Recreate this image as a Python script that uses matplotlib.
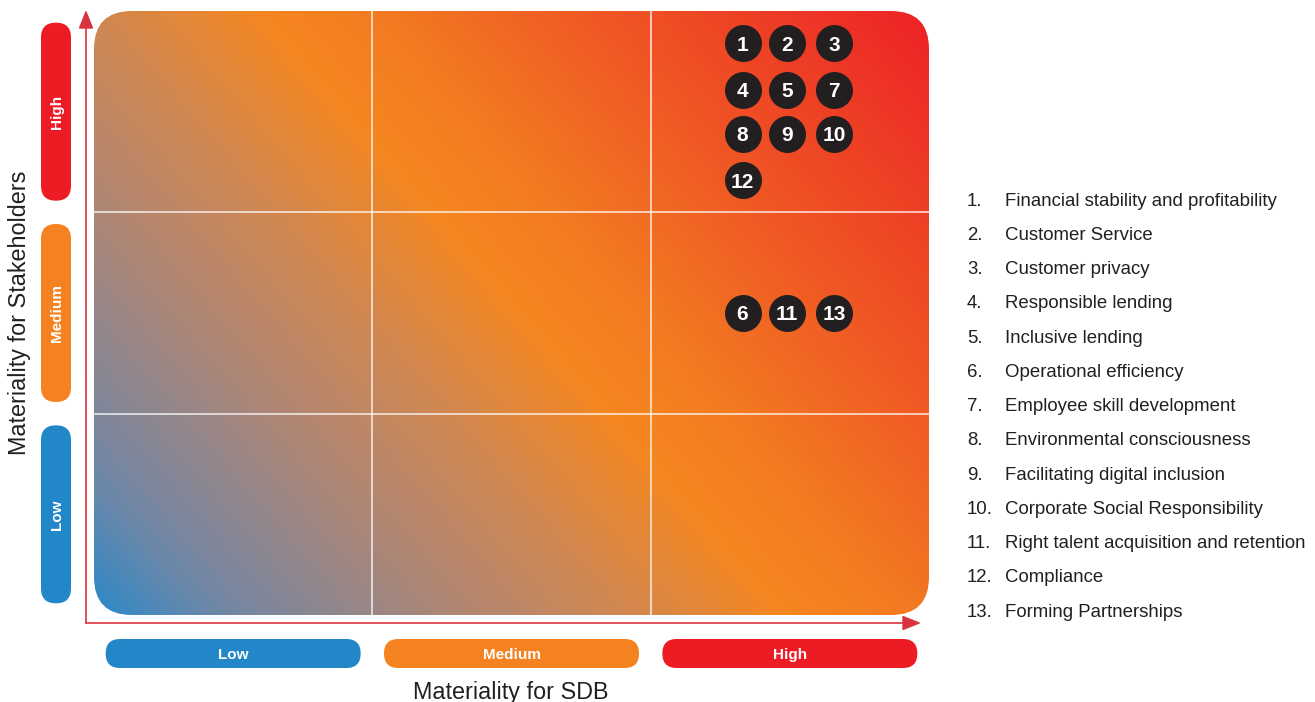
import numpy as np
import matplotlib
matplotlib.use("Agg")
import matplotlib.pyplot as plt
from matplotlib.colors import LinearSegmentedColormap
from matplotlib.patches import FancyBboxPatch

plt.rcParams["font.family"] = ["Liberation Sans", "DejaVu Sans"]

# ---- data -------------------------------------------------------------
levels = ["Low", "Medium", "High"]
level_colors = ["#2187c8", "#f58220", "#ed1c24"]

topics = [
    "Financial stability and profitability",
    "Customer Service",
    "Customer privacy",
    "Responsible lending",
    "Inclusive lending",
    "Operational efficiency",
    "Employee skill development",
    "Environmental consciousness",
    "Facilitating digital inclusion",
    "Corporate Social Responsibility",
    "Right talent acquisition and retention",
    "Compliance",
    "Forming Partnerships",
]
topic_ids = [1, 2, 3, 4, 5, 6, 7, 8, 9, 10, 11, 12, 13]
# position on the 0-3 materiality scale (0-1 low, 1-2 medium, 2-3 high)
sdb_score = [2.33, 2.49, 2.66, 2.33, 2.49, 2.33, 2.66, 2.33, 2.49, 2.66, 2.49, 2.33, 2.66]
stakeholder_score = [2.84, 2.84, 2.84, 2.61, 2.61, 1.50, 2.61, 2.39, 2.39, 2.39, 1.50, 2.16, 1.50]

# ---- figure -----------------------------------------------------------
W, H = 1315, 702
DPI = 100
fig = plt.figure(figsize=(W / DPI, H / DPI), dpi=DPI)
CAP = 0.716  # cap height of the sans face, in em


def cap_px(pt):
    return pt * DPI / 72.0 * CAP


# matrix axes: left 94, right 929, top 11, bottom 615 (pixels)
L, R, T, B = 94, 929, 11, 615
ax = fig.add_axes([L / W, 1 - B / H, (R - L) / W, (B - T) / H])
ax.set_xlim(0, 3)
ax.set_ylim(0, 3)
ax.axis("off")

px_x = (R - L) / 3.0   # pixels per x unit
px_y = (B - T) / 3.0   # pixels per y unit
asp = px_x / px_y      # keeps rounded corners circular on screen

# diagonal background gradient (blue bottom-left -> orange -> red top-right)
stops = [
    (0.000, "#2a88ca"), (0.080, "#6888ab"), (0.114, "#7a86a0"), (0.260, "#ae8676"),
    (0.385, "#d08852"), (0.510, "#f5861f"), (0.600, "#f37a21"), (0.740, "#f05a24"),
    (0.870, "#ee3f25"), (1.000, "#ed2226"),
]
cmap = LinearSegmentedColormap.from_list("matrix", stops)
nx, ny = R - L, B - T
xx, yy = np.meshgrid(np.arange(nx), np.arange(ny)[::-1])
tilt = 1.15
tt = (tilt * xx + yy) / float(tilt * nx + ny)
img = ax.imshow(cmap(tt), extent=(0, 3, 0, 3), origin="upper",
                aspect="auto", interpolation="bilinear", zorder=1)

box = FancyBboxPatch((0, 0), 3, 3, boxstyle="round,pad=0,rounding_size=%f" % (38 / px_x),
                     mutation_aspect=asp, transform=ax.transData,
                     facecolor="none", edgecolor="none")
ax.add_patch(box)
img.set_clip_path(box)

# cell dividers
for v in (1, 2):
    ax.plot([v, v], [0, 3], color="white", lw=1.2, alpha=0.8, zorder=2)
    ax.plot([0, 3], [v, v], color="white", lw=1.2, alpha=0.8, zorder=2)

# topic bubbles
bubble_pt = 15
ax.scatter(sdb_score, stakeholder_score, s=(37 * 0.72) ** 2, color="#231f20",
           zorder=3, linewidths=0)
for tid, xs, ys in zip(topic_ids, sdb_score, stakeholder_score):
    ax.text(xs, ys - cap_px(bubble_pt) / 2 / px_y, str(tid), color="white",
            fontsize=bubble_pt, fontweight="bold",
            ha="center", va="baseline", zorder=4)

# axis arrows
ox, oy = (86 - L) / px_x, -(623 - B) / px_y
arrow_color = "#d8343d"
head = "-|>,head_length=0.75,head_width=0.3"
ax.annotate("", xy=(ox, 3 + (T - 10) / px_y), xytext=(ox, oy),
            arrowprops=dict(arrowstyle=head, mutation_scale=15, color=arrow_color,
                            lw=1.2, shrinkA=0, shrinkB=0), annotation_clip=False)
ax.annotate("", xy=((921 - L) / px_x, oy), xytext=(ox, oy),
            arrowprops=dict(arrowstyle=head, mutation_scale=15, color=arrow_color,
                            lw=1.2, shrinkA=0, shrinkB=0), annotation_clip=False)

# level pills along the x axis
pill_pt = 11
pill_w = 255 / px_x
pill_h = 29 / px_y
pill_y = -(653.5 - B) / px_y
for i, (lab, col) in enumerate(zip(levels, level_colors)):
    cx = i + 0.5
    p = FancyBboxPatch((cx - pill_w / 2, pill_y - pill_h / 2), pill_w, pill_h,
                       boxstyle="round,pad=0,rounding_size=%f" % (14.4 / px_x),
                       mutation_aspect=asp, facecolor=col, edgecolor="none",
                       clip_on=False, zorder=2)
    ax.add_patch(p)
    ax.text(cx, pill_y - cap_px(pill_pt) / 2 / px_y, lab, color="white",
            fontsize=pill_pt, fontweight="bold",
            ha="center", va="baseline", clip_on=False)

# level pills along the y axis
vp_w = 30 / px_x
vp_h = 178 / px_y
vp_x = -(L - 56) / px_x
for i, (lab, col) in enumerate(zip(levels, level_colors)):
    cy = i + 0.5
    p = FancyBboxPatch((vp_x - vp_w / 2, cy - vp_h / 2), vp_w, vp_h,
                       boxstyle="round,pad=0,rounding_size=%f" % (14.9 / px_x),
                       mutation_aspect=asp, facecolor=col, edgecolor="none",
                       clip_on=False, zorder=2)
    ax.add_patch(p)
    ax.text(vp_x + cap_px(pill_pt) / 2 / px_x, cy, lab, color="white",
            fontsize=pill_pt, fontweight="bold", ha="center", va="baseline",
            rotation=90, rotation_mode="anchor", clip_on=False)

# axis titles
title_pt = 16.8
fig.text(511 / W, 1 - 699 / H, "Materiality for SDB", fontsize=title_pt,
         color="#231f20", ha="center", va="baseline")
fig.text(26 / W, 1 - 312.5 / H, "Materiality for Stakeholders", fontsize=title_pt,
         color="#231f20", ha="center", va="baseline", rotation=90,
         rotation_mode="anchor")

# numbered topic list
list_pt = 13.4
y0, dy = 205.5, 34.27
for k, (tid, name) in enumerate(zip(topic_ids, topics)):
    yk = 1 - (y0 + k * dy) / H
    fig.text(967 / W, yk, f"{tid}.", fontsize=list_pt, color="#231f20",
             ha="left", va="baseline")
    fig.text(1005 / W, yk, name, fontsize=list_pt, color="#231f20",
             ha="left", va="baseline")

fig.savefig("out.png", dpi=DPI, facecolor="white")
